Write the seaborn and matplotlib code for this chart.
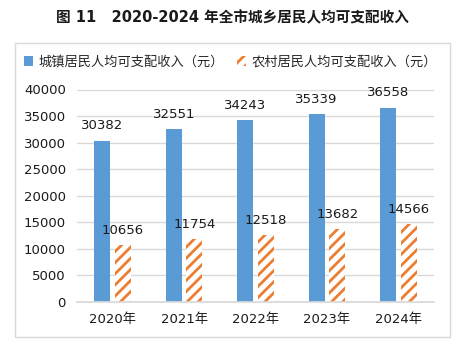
import matplotlib
matplotlib.use("Agg")
import matplotlib.pyplot as plt
import seaborn as sns
import pandas as pd
from matplotlib.patches import Patch, Rectangle

years = ["2020年", "2021年", "2022年", "2023年", "2024年"]
urban = [30382, 32551, 34243, 35339, 36558]
rural = [10656, 11754, 12518, 13682, 14566]
series_names = ["城镇居民人均可支配收入（元）", "农村居民人均可支配收入（元）"]
title = "图 11   2020-2024 年全市城乡居民人均可支配收入"

BLUE = "#5B9BD5"
ORANGE = "#ED7D31"

sns.set_theme(style="white")
plt.rcParams["font.family"] = ["DejaVu Sans", "Noto Sans CJK SC"]
plt.rcParams["hatch.linewidth"] = 2.0

df = pd.DataFrame({
    "year": years * 2,
    "value": urban + rural,
    "series": [series_names[0]] * len(years) + [series_names[1]] * len(years),
})

fig = plt.figure(figsize=(4.64, 3.45), dpi=100)
ax = fig.add_axes([77 / 464, 1 - 301.7 / 345, (434 - 77) / 464, (301.7 - 89.5) / 345])

sns.barplot(data=df, x="year", y="value", hue="series",
            palette=[BLUE, ORANGE], width=0.58, gap=0.23,
            ax=ax, legend=False, linewidth=0, saturation=1)

for bar in ax.containers[1]:
    bar.set_facecolor("white")
    bar.set_edgecolor(ORANGE)
    bar.set_hatch("///")
    bar.set_linewidth(0)

for cont in ax.containers:
    for bar in cont:
        h = bar.get_height()
        ax.annotate(f"{int(round(h))}", (bar.get_x() + bar.get_width() / 2, h),
                    xytext=(0, 6), textcoords="offset points",
                    ha="center", va="bottom", fontsize=9.5, color="#1a1a1a")

ax.set_ylim(0, 40000)
ax.set_yticks(range(0, 40001, 5000))
ax.set_xlim(-0.5, 4.5)
ax.set_xlabel("")
ax.set_ylabel("")
ax.yaxis.grid(True, color="#D9D9D9", linewidth=1)
ax.set_axisbelow(True)
for s in ["top", "right", "left"]:
    ax.spines[s].set_visible(False)
ax.spines["bottom"].set_color("#D9D9D9")
ax.tick_params(axis="both", length=0, labelsize=9.5, colors="#1a1a1a")
ax.tick_params(axis="y", pad=8)
ax.tick_params(axis="x", pad=8)

# outer frame
fig.patches.append(Rectangle((15 / 464, 1 - 337 / 345), (450 - 15) / 464, (337 - 43) / 345,
                             transform=fig.transFigure, fill=False,
                             edgecolor="#D9D9D9", linewidth=1))

fig.text(232 / 464, 1 - 18 / 345, title, ha="center", va="center",
         fontsize=10.5, fontweight="bold", family=["DejaVu Sans", "Noto Sans CJK SC"], color="#1a1a1a")

handles = [Patch(facecolor=BLUE, edgecolor="none"),
           Patch(facecolor="white", edgecolor=ORANGE, hatch="///", linewidth=0)]
fig.legend(handles, series_names, loc="center left", bbox_to_anchor=(24 / 464, 1 - 62 / 345),
           ncol=2, frameon=False, handlelength=0.7, handleheight=0.7,
           handletextpad=0.4, columnspacing=1.0, borderaxespad=0, borderpad=0,
           prop={"family": ["Noto Sans CJK SC"], "size": 9.5})

fig.savefig("out.png", dpi=100)
